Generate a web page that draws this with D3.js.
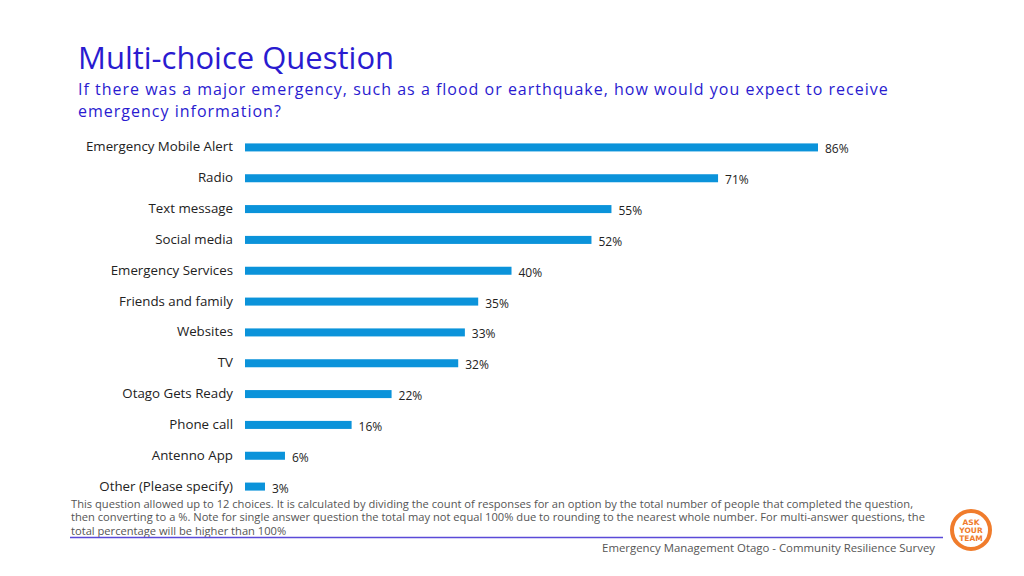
<!DOCTYPE html>
<html><head><meta charset="utf-8">
<script src="https://cdn.jsdelivr.net/npm/d3@7"></script>
<style>body{margin:0;background:#fff}svg{display:block}</style>
</head><body><svg id="c" width="1024" height="576"></svg>
<script>
const categories = ["Emergency Mobile Alert","Radio","Text message","Social media","Emergency Services","Friends and family","Websites","TV","Otago Gets Ready","Phone call","Antenno App","Other (Please specify)"];
const values = [86,71,55,52,40,35,33,32,22,16,6,3];
const valueLabels = values.map(v => v + "%");

const svg = d3.select("#c");
const font = "'Open Sans', sans-serif";
const titleColor = "#2a1bd0";
const barColor = "#0b93da";

svg.append("text").attr("x",78).attr("y",69).attr("font-family",font).attr("font-size",31)
  .attr("fill",titleColor).text("Multi-choice Question");
const sub = ["If there was a major emergency, such as a flood or earthquake, how would you expect to receive","emergency information?"];
sub.forEach((s,i)=>svg.append("text").attr("x",78).attr("y",95+i*22).attr("font-family",font).attr("font-size",16)
  .attr("letter-spacing",1.0).attr("fill",titleColor).text(s));

const x = d3.scaleLinear().domain([0,86]).range([245,818]);
const y = d3.scaleBand().domain(categories).range([132,502]).paddingInner(0.74).paddingOuter(0.37);

const g = svg.append("g");
g.selectAll("rect").data(categories).join("rect")
  .attr("x",x(0)).attr("y",d=>y(d)).attr("height",y.bandwidth())
  .attr("width",(d,i)=>x(values[i])-x(0)).attr("fill",barColor);

g.selectAll("text.cat").data(categories).join("text").attr("class","cat")
  .attr("x",233).attr("y",d=>y(d)+y.bandwidth()/2+4).attr("text-anchor","end")
  .attr("font-family",font).attr("font-size",13.3).attr("fill","#222").text(d=>d);

g.selectAll("text.val").data(categories).join("text").attr("class","val")
  .attr("x",(d,i)=>x(values[i])+7).attr("y",d=>y(d)+y.bandwidth()/2+6)
  .attr("font-family",font).attr("font-size",12).attr("fill","#222").text((d,i)=>valueLabels[i]);

const notes = ["This question allowed up to 12 choices. It is calculated by dividing the count of responses for an option by the total number of people that completed the question,",
"then converting to a %. Note for single answer question the total may not equal 100% due to rounding to the nearest whole number. For multi-answer questions, the",
"total percentage will be higher than 100%"];
notes.forEach((s,i)=>svg.append("text").attr("x",71).attr("y",508+i*13.3).attr("font-family",font).attr("font-size",11.15)
  .attr("fill","#555").text(s));

svg.append("line").attr("x1",70).attr("x2",943).attr("y1",537.5).attr("y2",537.5).attr("stroke","#5a4ad8").attr("stroke-width",1.5);
svg.append("text").attr("x",935).attr("y",552).attr("text-anchor","end").attr("font-family",font).attr("font-size",11.4)
  .attr("fill","#555").text("Emergency Management Otago - Community Resilience Survey");

const logo = svg.append("g").attr("transform","translate(971,530)");
logo.append("circle").attr("r",19).attr("fill","none").attr("stroke","#f07c2c").attr("stroke-width",4);
["ASK","YOUR","TEAM"].forEach((t,i)=>logo.append("text").attr("y",-5+i*8).attr("text-anchor","middle")
  .attr("font-family","'DejaVu Sans', sans-serif").attr("font-weight","bold").attr("font-size",7.5).attr("fill","#f07c2c").text(t));
</script></body></html>
